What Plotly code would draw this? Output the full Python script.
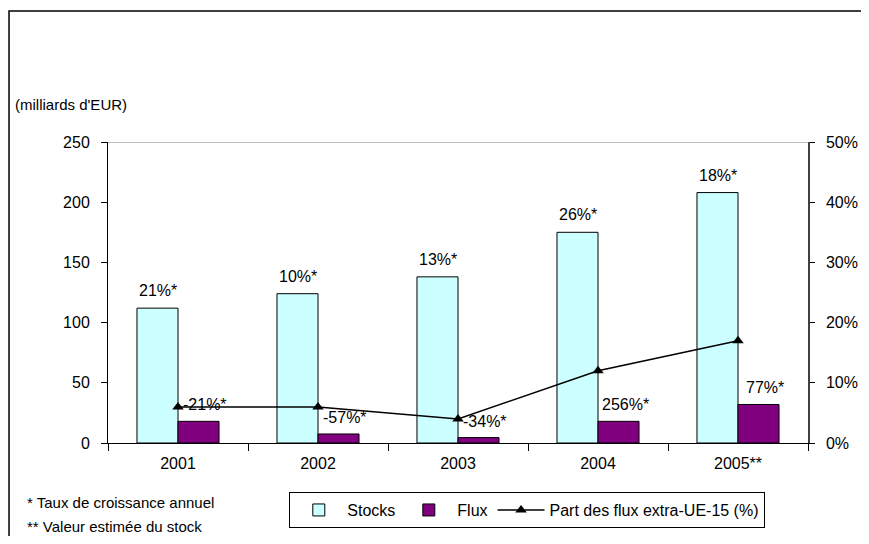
import plotly.graph_objects as go

years = ["2001", "2002", "2003", "2004", "2005**"]
stocks = [112, 124, 138, 175, 208]
flux = [18, 7.5, 4.5, 18, 32]
share = [0.06, 0.06, 0.04, 0.12, 0.17]
stock_labels = ["21%*", "10%*", "13%*", "26%*", "18%*"]
flux_labels = ["-21%*", "-57%*", "-34%*", "256%*", "77%*"]

FONT = "Liberation Sans, Arial, sans-serif"
FS = 16

fig = go.Figure()
fig.add_trace(go.Bar(x=years, y=stocks, name="Stocks",
                     marker=dict(color="#CCFFFF", line=dict(color="black", width=1))))
fig.add_trace(go.Bar(x=years, y=flux, name="Flux",
                     marker=dict(color="#800080", line=dict(color="black", width=1))))
fig.add_trace(go.Scatter(x=years, y=share, name="Part des flux extra-UE-15 (%)", yaxis="y2",
                         mode="lines+markers",
                         line=dict(color="black", width=1.5),
                         marker=dict(symbol="triangle-up", size=10, color="black")))

annotations = []
for i, (v, t) in enumerate(zip(stocks, stock_labels)):
    annotations.append(dict(x=i, y=v, text=t, showarrow=False, xshift=-20.5, yshift=7,
                            yanchor="bottom", font=dict(size=FS, color="black", family=FONT)))
for i, (v, t) in enumerate(zip(flux, flux_labels)):
    annotations.append(dict(x=i, y=v, text=t, showarrow=False, xshift=27, yshift=6,
                            yanchor="bottom", font=dict(size=FS, color="black", family=FONT)))
annotations += [
    dict(xref="paper", yref="paper", x=-0.136, y=1.123, xanchor="left", yanchor="middle",
         text="(milliards d'EUR)", showarrow=False, font=dict(size=15, color="black", family=FONT)),
    dict(xref="paper", yref="paper", x=-0.119, y=-0.199, xanchor="left", yanchor="middle",
         text="* Taux de croissance annuel", showarrow=False, font=dict(size=15, color="black", family=FONT)),
    dict(xref="paper", yref="paper", x=-0.119, y=-0.279, xanchor="left", yanchor="middle",
         text="** Valeur estimée du stock", showarrow=False, font=dict(size=15, color="black", family=FONT)),
]

shapes = [
    dict(type="rect", xref="paper", yref="paper", x0=-0.1414, x1=1.2, y0=-0.5, y1=1.435,
         line=dict(color="black", width=1.5), fillcolor="rgba(0,0,0,0)", layer="below"),
    dict(type="line", xref="paper", yref="y", x0=0, x1=1, y0=250, y1=250,
         line=dict(color="#808080", width=1)),
]

fig.update_layout(
    width=853, height=528,
    margin=dict(l=100, r=53, t=134, b=93, autoexpand=False),
    paper_bgcolor="white", plot_bgcolor="white",
    font=dict(family=FONT, size=FS, color="black"),
    barmode="group", bargap=0.414, bargroupgap=0,
    showlegend=True,
    legend=dict(orientation="h", x=0.259, y=-0.163, xanchor="left", yanchor="top",
                bordercolor="black", borderwidth=1, bgcolor="white",
                font=dict(size=FS, family=FONT), itemwidth=47, traceorder="normal",
                tracegroupgap=0),
    xaxis=dict(type="category", range=[-0.5, len(years) - 0.5], showline=True,
               linecolor="black", linewidth=1, automargin=False,
               ticks="outside", ticklen=7, tickcolor="black", tickson="boundaries",
               showgrid=False, tickfont=dict(size=FS), tickangle=0, ticklabelstandoff=6),
    yaxis=dict(range=[0, 250], dtick=50, showline=True, linecolor="black", linewidth=1,
               ticks="outside", ticklen=6, tickcolor="black", showgrid=False, zeroline=False,
               tickfont=dict(size=FS), ticklabelstandoff=8, automargin=False),
    yaxis2=dict(range=[0, 0.5], dtick=0.1, tickformat=".0%", overlaying="y", side="right",
                showline=True, linecolor="#404040", linewidth=1.5, ticks="outside", ticklen=5,
                tickcolor="black", showgrid=False, zeroline=False, tickfont=dict(size=FS),
                ticklabelstandoff=8, automargin=False),
    annotations=annotations,
    shapes=shapes,
)

fig.write_html("out.html")
